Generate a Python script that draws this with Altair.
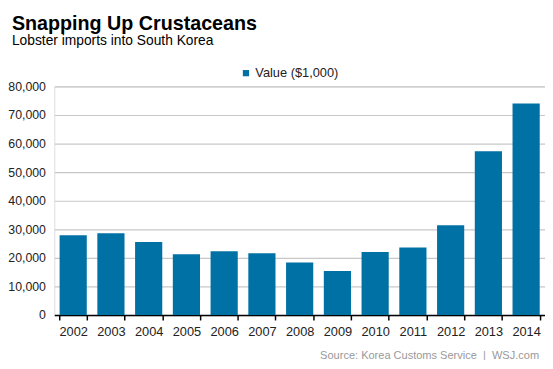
import altair as alt
import pandas as pd

years = ["2002", "2003", "2004", "2005", "2006", "2007", "2008",
         "2009", "2010", "2011", "2012", "2013", "2014"]
values = [27900, 28600, 25600, 21300, 22300, 21600, 18400,
          15400, 22100, 23600, 31400, 57300, 74000]
series_name = "Value ($1,000)"
y_ticks = [0, 10000, 20000, 30000, 40000, 50000, 60000, 70000, 80000]
title_text = "Snapping Up Crustaceans"
subtitle_text = "Lobster imports into South Korea"
source_text = "Source: Korea Customs Service\u00a0\u00a0|\u00a0\u00a0WSJ.com"

FONT = "Liberation Sans"
BLUE = "#0071a4"

df = pd.DataFrame({"year": years, "value": values, "series": [series_name] * len(years)})

bars = alt.Chart(df).mark_bar(color=BLUE).encode(
    x=alt.X("year:N", sort=years, title=None,
            scale=alt.Scale(paddingInner=0.28, paddingOuter=0.14),
            axis=alt.Axis(labelAngle=0, labelFont=FONT, labelFontSize=13,
                          labelColor="#222222", domainColor="#000000",
                          domainWidth=1.5, tickColor="#000000", tickWidth=1.5,
                          tickSize=5, tickBand="extent", labelPadding=6,
                          grid=False)),
    y=alt.Y("value:Q", title=None,
            scale=alt.Scale(domain=[0, 80000], nice=False),
            axis=alt.Axis(values=y_ticks, format=",.0f", labelFont=FONT,
                          labelFontSize=12.5, labelColor="#222222",
                          domain=False, ticks=False, labelPadding=9,
                          gridColor="#c8c8c8", gridWidth=1.2)),
    color=alt.Color("series:N",
                    scale=alt.Scale(domain=[series_name], range=[BLUE]),
                    legend=alt.Legend(title=None, orient="none",
                                      legendX=188, legendY=-20,
                                      symbolType="square", symbolSize=40,
                                      labelOffset=3,
                                      labelFont=FONT, labelFontSize=13,
                                      labelColor="#222222",
                                      symbolStrokeWidth=0)),
)

src_df = pd.DataFrame({"t": [source_text]})
source = alt.Chart(src_df).mark_text(
    font=FONT, fontSize=11.2, color="#999999", align="right", baseline="middle"
).encode(text="t:N", x=alt.value(492), y=alt.value(274))

chart = alt.layer(bars, source).properties(
    width=498, height=232,
    padding={"left": 47, "top": 77, "right": 0, "bottom": 43},
    autosize=alt.AutoSizeParams(type="none"),
    title=alt.TitleParams(text=title_text, subtitle=subtitle_text,
                          anchor="start", frame="group", dx=-43, offset=19,
                          font=FONT, fontSize=20, fontWeight="bold",
                          color="#000000", subtitleFont=FONT,
                          subtitleFontSize=14, subtitleColor="#000000",
                          subtitlePadding=0),
).configure_view(stroke=None).configure(background="white")

chart.save("out.html", embed_options={"renderer": "svg", "actions": False})
